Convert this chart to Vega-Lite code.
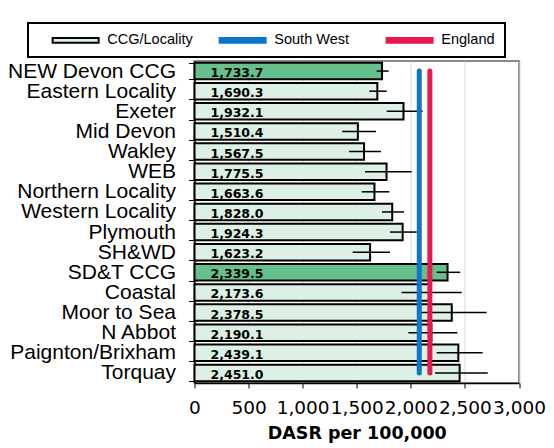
{
  "$schema": "https://vega.github.io/schema/vega-lite/v6.json",
  "autosize": {"type": "none"},
  "width": 324.5,
  "height": 322,
  "padding": {"left": 194.5, "top": 61, "right": 34.5, "bottom": 65},
  "background": "white",
  "config": {
    "font": "Liberation Sans",
    "view": {"stroke": "#898989", "strokeWidth": 2}
  },
  "datasets": {
    "bars": [
      {"name": "NEW Devon CCG", "value": 1733.7, "lo": 1684, "hi": 1795, "type": "ccg"},
      {"name": "Eastern Locality", "value": 1690.3, "lo": 1616, "hi": 1777, "type": "loc"},
      {"name": "Exeter", "value": 1932.1, "lo": 1777, "hi": 2110, "type": "loc"},
      {"name": "Mid Devon", "value": 1510.4, "lo": 1366, "hi": 1678, "type": "loc"},
      {"name": "Wakley", "value": 1567.5, "lo": 1428, "hi": 1724, "type": "loc"},
      {"name": "WEB", "value": 1775.5, "lo": 1576, "hi": 2008, "type": "loc"},
      {"name": "Northern Locality", "value": 1663.6, "lo": 1546, "hi": 1801, "type": "loc"},
      {"name": "Western Locality", "value": 1828.0, "lo": 1733, "hi": 1937, "type": "loc"},
      {"name": "Plymouth", "value": 1924.3, "lo": 1807, "hi": 2054, "type": "loc"},
      {"name": "SH&WD", "value": 1623.2, "lo": 1462, "hi": 1807, "type": "loc"},
      {"name": "SD&T CCG", "value": 2339.5, "lo": 2239, "hi": 2457, "type": "ccg"},
      {"name": "Coastal", "value": 2173.6, "lo": 1915, "hi": 2470, "type": "loc"},
      {"name": "Moor to Sea", "value": 2378.5, "lo": 2080, "hi": 2701, "type": "loc"},
      {"name": "N Abbot", "value": 2190.1, "lo": 1977, "hi": 2430, "type": "loc"},
      {"name": "Paignton/Brixham", "value": 2439.1, "lo": 2239, "hi": 2664, "type": "loc"},
      {"name": "Torquay", "value": 2451.0, "lo": 2224, "hi": 2711, "type": "loc"}
    ],
    "lines": [
      {"series": "South West", "name": "NEW Devon CCG", "v": 2078, "i": 0},
      {"series": "South West", "name": "Torquay", "v": 2078, "i": 1},
      {"series": "England", "name": "NEW Devon CCG", "v": 2176, "i": 0},
      {"series": "England", "name": "Torquay", "v": 2176, "i": 1}
    ]
  },
  "encoding": {
    "y": {
      "field": "name",
      "type": "nominal",
      "sort": null,
      "scale": {"paddingInner": 0.18, "paddingOuter": 0.09},
      "axis": {
        "title": null,
        "labelFont": "Liberation Sans",
        "labelFontSize": 21,
        "labelColor": "black",
        "labelPadding": 13,
        "labelLimit": 300,
        "tickSize": 6,
        "tickColor": "black",
        "tickBand": "extent",
        "domainColor": "black",
        "domainWidth": 1.5,
        "grid": false
      }
    }
  },
  "layer": [
    {
      "data": {"name": "bars"},
      "mark": {"type": "bar", "stroke": "black", "strokeWidth": 2},
      "encoding": {
        "x": {
          "field": "value",
          "type": "quantitative",
          "scale": {"domain": [0, 3000], "nice": false},
          "axis": {
            "values": [0, 500, 1000, 1500, 2000, 2500, 3000],
            "format": ",d",
            "title": "DASR per 100,000",
            "titleFont": "DejaVu Sans",
            "titleFontSize": 17.5,
            "titleFontWeight": "bold",
            "titleColor": "black",
            "titlePadding": 8,
            "labelFont": "DejaVu Sans",
            "labelFontSize": 18.5,
            "labelColor": "black",
            "labelPadding": 10,
            "labelOverlap": false,
            "labelFlush": false,
            "labelBound": false,
            "tickSize": 5,
            "tickColor": "black",
            "domainColor": "black",
            "domainWidth": 1.5,
            "grid": true,
            "gridColor": "#d9d9d9",
            "gridWidth": 1
          }
        },
        "fill": {
          "field": "type",
          "type": "nominal",
          "scale": {"domain": ["ccg", "loc"], "range": ["#66c08c", "#ddf0e4"]},
          "legend": null
        }
      }
    },
    {
      "data": {"name": "bars"},
      "mark": {"type": "rule", "color": "black", "strokeWidth": 1.5},
      "encoding": {
        "x": {"field": "lo", "type": "quantitative"},
        "x2": {"field": "hi"}
      }
    },
    {
      "data": {"name": "bars"},
      "mark": {"type": "text", "font": "DejaVu Sans", "fontWeight": "bold", "fontSize": 12.5, "color": "black", "align": "center", "baseline": "alphabetic", "dy": 6},
      "encoding": {
        "x": {"datum": 393, "type": "quantitative"},
        "text": {"field": "value", "type": "quantitative", "format": ",.1f"}
      }
    },
    {
      "data": {"name": "lines"},
      "mark": {"type": "line", "strokeWidth": 5, "strokeCap": "round"},
      "encoding": {
        "x": {"field": "v", "type": "quantitative"},
        "order": {"field": "i"},
        "stroke": {
          "field": "series",
          "type": "nominal",
          "scale": {"domain": ["CCG/Locality", "South West", "England"], "range": ["#000000", "#0a77c8", "#e8194f"]},
          "legend": {
            "title": null,
            "orient": "none",
            "legendX": -166.5,
            "legendY": -38,
            "direction": "horizontal",
            "columns": 3,
            "gridAlign": "all",
            "labelFont": "Liberation Sans",
            "labelFontSize": 14.5,
            "labelColor": "black",
            "labelOffset": 24.4,
            "padding": 10,
            "symbolOffset": 30.4,
            "columnPadding": 12,
            "symbolType": "M-5,-0.5H5V0.5H-5Z",
            "symbolSize": 84.6,
            "symbolStrokeWidth": 2,
            "strokeColor": "black",
            "encode": {
              "symbols": {
                "update": {
                  "fill": {"signal": "datum.value === 'CCG/Locality' ? '#ddf0e4' : datum.value === 'South West' ? '#0a77c8' : '#e8194f'"},
                  "strokeWidth": {"value": 2},
                  "opacity": {"value": 1}
                }
              },
              "legend": {"update": {"strokeWidth": {"value": 2}}}
            }
          }
        }
      }
    }
  ]
}
